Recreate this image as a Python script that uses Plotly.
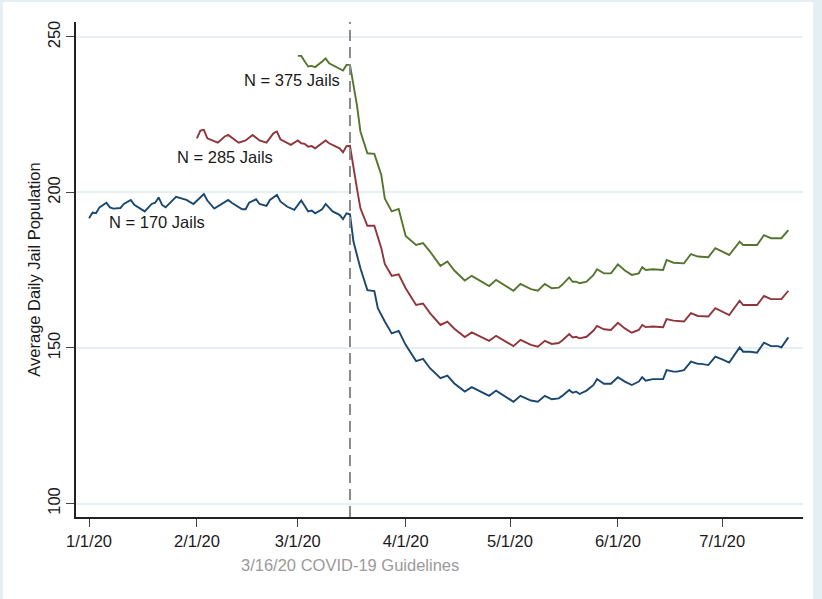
import pandas as pd
import plotly.graph_objects as go

# ---- data (day offsets from 2020-01-01, values = average daily jail population) ----
blue_day = [0, 1, 2, 3, 5, 6, 7, 9, 10, 12, 13, 15, 16, 18, 19, 20, 21, 22, 25, 28, 30, 33, 34, 36, 38,
            40, 41, 44, 45, 46, 48, 49, 51, 52, 54, 55, 57, 59, 61, 63, 64, 65, 67, 68, 70, 72, 73, 74, 75,
            76, 78, 80, 82, 83, 85, 87, 89, 91, 94, 96, 98, 101, 103, 105, 108, 110, 115, 117, 122, 124,
            127, 129, 131, 133, 135, 136, 138, 139, 140, 141, 143, 145, 146, 148, 150, 152, 154, 156, 158,
            159, 160, 162, 165, 166, 168, 169, 171, 173, 175, 176, 178, 180, 182, 184, 187, 188, 190, 192,
            194, 196, 198, 199, 201]
blue_val = [191.7, 193.5, 193.3, 195.2, 196.7, 195.2, 194.8, 195.0, 196.3, 197.6, 196.0, 194.6, 193.9,
            196.3, 196.7, 198.4, 196.0, 195.2, 198.6, 197.6, 196.3, 199.5, 197.4, 194.8, 196.3,
            197.6, 196.7, 194.6, 194.6, 196.7, 197.8, 196.3, 195.7, 197.6, 199.2, 197.1, 195.4, 194.4,
            197.4, 193.9, 194.2, 193.3, 194.6, 196.3, 193.9, 192.8, 191.4, 193.3, 193.0,
            184.2, 175.6, 168.6, 168.3, 162.8, 158.5, 154.7, 155.5, 151.0, 145.8, 146.5, 143.5, 140.3,
            141.1, 138.6, 136.0, 137.4, 134.6, 136.3, 132.7, 134.6,
            133.1, 132.7, 134.6, 133.5, 133.8, 134.6, 136.5, 135.6, 136.0, 135.2, 136.3, 138.1, 140.0,
            138.5, 138.5, 140.6, 139.2, 138.1, 139.2,
            140.6, 139.5, 140.0, 140.0, 142.9, 142.4, 142.4, 142.9, 145.6, 144.9, 144.9, 144.5, 147.2,
            146.3, 145.3, 150.2, 148.8, 148.8, 148.5,
            151.7, 150.6, 150.6, 150.2, 153.4]

red_day = [31, 32, 33, 34, 37, 39, 40, 43, 45, 47, 49, 51, 53, 54, 55, 58, 60, 61, 62, 63, 64, 65, 68,
           69, 72, 73, 74, 75,
           77, 78, 80, 82, 84, 85, 87, 89, 91, 94, 96, 98, 101, 103, 105, 108, 110, 115, 117, 122, 124,
           127, 129, 131, 133, 135, 136, 138, 139, 140, 141, 143, 145, 146, 148, 150, 152, 154, 156, 158,
           159, 160, 162, 165, 166, 168, 171, 173, 175, 178, 180, 182, 184, 187, 188, 192, 194, 196, 199,
           201]
red_val = [217.4, 219.9, 220.1, 217.4, 216.0, 218.0, 218.5, 216.0, 216.7, 218.5, 216.7, 216.0, 219.0,
           219.6, 217.1, 215.3, 216.7, 215.8, 215.6, 214.7, 214.9, 214.2, 216.7,
           215.8, 214.2, 212.9, 214.9, 215.0,
           201.3, 194.9, 189.3, 189.3, 182.1, 177.0, 173.2, 173.7, 169.2, 163.8, 164.3, 161.2, 157.4,
           158.5, 156.2, 153.5, 155.0, 152.3, 153.9, 150.6, 152.6,
           151.0, 150.4, 152.3, 151.3, 151.6, 152.4, 154.5, 153.4, 153.6, 153.1, 153.6, 155.6, 157.1,
           156.0, 155.8, 158.1, 156.3, 154.9, 155.8,
           157.4, 156.7, 156.9, 156.7, 159.3, 158.8, 158.5, 161.2, 160.3, 160.1, 162.8, 161.7, 160.6,
           165.2, 163.8, 163.8, 166.7, 165.7, 165.7,
           168.4]

green_day = [60, 61, 62, 63, 64, 65, 67, 68, 69, 71, 73, 74, 75,
             77, 78, 80, 82, 84, 85, 87, 89, 91, 94, 96, 98, 101, 103, 105, 108, 110, 115, 117, 122,
             124, 127, 129, 131, 133, 135, 136, 138, 139, 140, 141, 143, 145, 146, 148, 150, 152, 154,
             156, 158, 159, 160, 162, 165, 166, 168, 171, 173, 175, 178, 180, 182, 184, 187, 188, 192,
             194, 196, 199, 201]
green_val = [243.9, 243.9, 242.1, 240.5, 240.7, 240.3, 242.1, 243.1, 241.5, 240.3, 239.2, 241.0, 241.0,
             228.1, 219.6, 212.6, 212.4, 205.6, 198.1, 193.9, 194.7, 186.0, 183.1, 183.7, 181.0, 176.4,
             177.8, 174.9, 171.7, 173.2, 169.9, 171.9, 168.4,
             170.6, 168.9, 168.4, 170.6, 169.2, 169.4, 170.3, 172.7, 171.3, 171.3, 170.8, 171.3, 173.5,
             175.3, 174.0, 174.0, 176.9, 174.9,
             173.5, 174.0, 176.0, 175.1, 175.3, 175.1, 178.3, 177.4, 177.2, 180.2, 179.4, 179.2, 182.1,
             181.0, 179.9, 184.2, 183.1, 183.1,
             186.3, 185.3, 185.3, 187.9]

labels = ["N = 170 Jails", "N = 285 Jails", "N = 375 Jails"]
x_ticks = ["2020-01-01", "2020-02-01", "2020-03-01", "2020-04-01", "2020-05-01", "2020-06-01", "2020-07-01"]
x_ticktext = ["1/1/20", "2/1/20", "3/1/20", "4/1/20", "5/1/20", "6/1/20", "7/1/20"]
y_ticks = [100, 150, 200, 250]
event_date = "2020-03-16"
event_text = "3/16/20 COVID-19 Guidelines"

base = pd.Timestamp("2020-01-01")
def to_dates(days):
    return [base + pd.Timedelta(days=d) for d in days]

FONT = "Liberation Sans, Arial, Helvetica, sans-serif"
FS = 16.5
colors = ["#1a476f", "#90353b", "#55752f"]

fig = go.Figure()
for d, v, c in [(blue_day, blue_val, colors[0]), (red_day, red_val, colors[1]), (green_day, green_val, colors[2])]:
    fig.add_trace(go.Scatter(x=to_dates(d), y=v, mode="lines",
                             line=dict(color=c, width=1.9), showlegend=False, hoverinfo="skip"))

W, H = 822, 599
L, R, T, B = 76, 19, 22, 82
pw, ph = W - L - R, H - T - B

# white inner panel on light blue background
fig.add_shape(type="rect", xref="paper", yref="paper",
              x0=(3 - L) / pw, x1=(813 - L) / pw,
              y0=-(599 - (H - B)) / ph, y1=1 + (T - 2) / ph,
              fillcolor="white", line=dict(width=0), layer="below")

fig.add_shape(type="line", xref="x", yref="paper", x0=event_date, x1=event_date, y0=0, y1=1,
              line=dict(color="#8a8a8a", width=2, dash="11px,6px"))

fig.add_annotation(x=event_date, xref="x", y=-(565 - (H - B)) / ph, yref="paper",
                   text=event_text, showarrow=False, font=dict(family=FONT, size=FS, color="#9a9a9a"),
                   xanchor="center", yanchor="middle")

# series labels
label_pos = [("2020-01-20 12:00", 190.5), ("2020-02-09", 211.5), ("2020-02-28 07:00", 236.3)]
for (lx, ly), t in zip(label_pos, labels):
    fig.add_annotation(x=lx, y=ly, text=t, showarrow=False,
                       font=dict(family=FONT, size=FS, color="#1a1a1a"),
                       xanchor="center", yanchor="middle")

fig.update_layout(
    width=W, height=H,
    margin=dict(l=L, r=R, t=T, b=B),
    paper_bgcolor="#e4eff4",
    plot_bgcolor="white",
    font=dict(family=FONT, size=FS, color="#1a1a1a"),
    xaxis=dict(range=["2019-12-28 06:00", "2020-07-24 05:00"], tickvals=x_ticks, ticktext=x_ticktext,
               showgrid=False, zeroline=False, showline=True, linecolor="#222", linewidth=1.5,
               ticks="outside", ticklen=8, tickcolor="#444", tickwidth=1.2,
               tickfont=dict(family=FONT, size=FS, color="#1a1a1a")),
    yaxis=dict(range=[95.66, 254.8], tickvals=y_ticks, tickangle=-90,
               showgrid=True, gridcolor="#e6eff2", gridwidth=1.5, zeroline=False,
               showline=True, linecolor="#222", linewidth=1.5,
               ticks="outside", ticklen=8, tickcolor="#444", tickwidth=1.2,
               tickfont=dict(family=FONT, size=FS, color="#1a1a1a"),
               title=dict(text="Average Daily Jail Population", standoff=0,
                          font=dict(family=FONT, size=FS, color="#1a1a1a"))),
)

fig.write_html("out.html")
